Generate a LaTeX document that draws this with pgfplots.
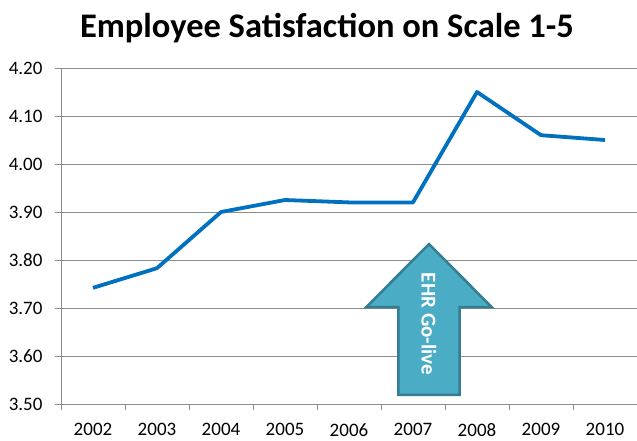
\documentclass[border=0pt]{standalone}
\usepackage{fontspec}
\setmainfont{Carlito}
\usepackage{pgfplots}
\pgfplotsset{compat=1.18}
\definecolor{linebl}{HTML}{0070C0}
\definecolor{gridg}{HTML}{8C8C8C}
\definecolor{arrfill}{HTML}{4BACC6}
\definecolor{arrdraw}{HTML}{357D91}
\begin{document}
\begin{tikzpicture}[x=1pt,y=1pt]
\useasboundingbox (0,0) rectangle (637,440);
\node[font=\bfseries\fontsize{34.5}{40}\selectfont] at (327,412) {Employee Satisfaction on Scale 1-5};
\begin{axis}[at={(61pt,36pt)},anchor=south west,scale only axis,
  width=576pt,height=336pt,
  xmin=-0.5,xmax=8.5,ymin=3.5,ymax=4.2,
  axis x line*=bottom,axis y line*=left,
  axis line style={gridg,line width=0.8pt},
  xtick={0,...,8},
  xticklabels={2002,2003,2004,2005,2006,2007,2008,2009,2010},
  major x tick style={draw=none},
  minor xtick={-0.5,0.5,...,8.5},
  minor x tick style={gridg,line width=0.8pt},
  minor tick length=6pt,
  ytick={3.5,3.6,...,4.21},
  y tick style={gridg,line width=0.8pt},
  major tick length=6pt,
  tick align=outside,
  ymajorgrids,
  grid style={gridg,line width=0.8pt},
  yticklabel style={xshift=-9pt,/pgf/number format/.cd,fixed,fixed zerofill,precision=2,assume math mode=true},
  ticklabel style={font=\fontsize{19}{22}\selectfont,text=black},
  xticklabel style={yshift=-10pt},
  clip=false]
\addplot[linebl,line width=3.8pt,line join=round] coordinates
  {(0,3.742) (1,3.783) (2,3.90) (3,3.925) (4,3.92) (5,3.92) (6,4.15) (7,4.06) (8,4.05)};
\draw[arrdraw,fill=arrfill,line width=2.5pt,line join=miter]
  (axis cs:5.25,3.833) -- (axis cs:6.23,3.702) -- (axis cs:5.73,3.702) --
  (axis cs:5.73,3.519) -- (axis cs:4.77,3.519) -- (axis cs:4.77,3.702) --
  (axis cs:4.27,3.702) -- cycle;
\node[rotate=-90,text=white,font=\bfseries\fontsize{21}{24}\selectfont] at (axis cs:5.25,3.667) {EHR Go-live};
\end{axis}
\end{tikzpicture}
\end{document}
